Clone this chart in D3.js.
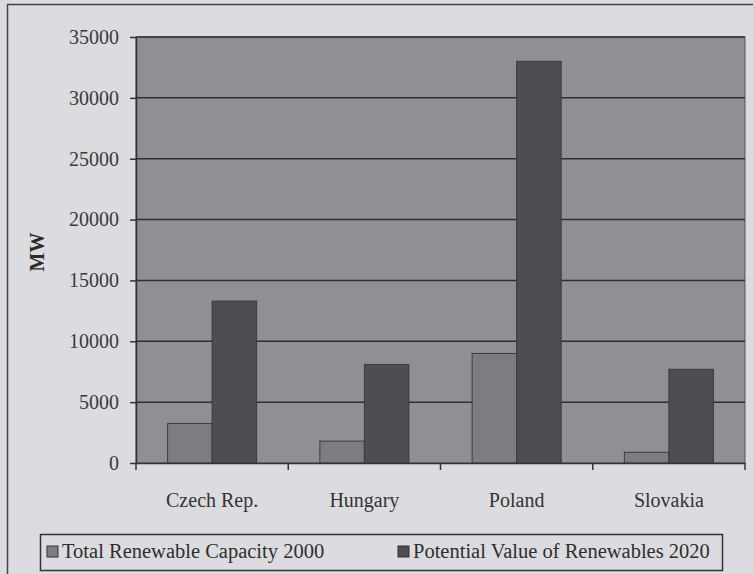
<!DOCTYPE html>
<html>
<head>
<meta charset="utf-8">
<script src="https://cdn.jsdelivr.net/npm/d3@7"></script>
<style>
  body { margin: 0; background: #dcdce0; }
  svg { display: block; }
</style>
</head>
<body>
<div id="chart"></div>
<script>
// categories and series
const countries = ["Czech Rep.", "Hungary", "Poland", "Slovakia"];
const capacity2000 = [3250, 1800, 9000, 880];
const potential2020 = [13300, 8100, 33000, 7700];
const seriesNames = ["Total Renewable Capacity 2000", "Potential Value of Renewables 2020"];
const yTicks = [0, 5000, 10000, 15000, 20000, 25000, 30000, 35000];

const W = 753, H = 574;
const margin = { top: 37, right: 8, bottom: 111, left: 136 };
const colors = ["#7c7c82", "#4d4d54"];
const serif = "'Liberation Serif', 'DejaVu Serif', serif";

const svg = d3.select("#chart")
  .append("svg")
  .attr("width", W)
  .attr("height", H);

// outer chart frame
svg.append("rect")
  .attr("x", 7.5).attr("y", 4.5)
  .attr("width", W).attr("height", H)
  .attr("fill", "#dcdce0")
  .attr("stroke", "#444").attr("stroke-width", 1.5);

const x = d3.scaleBand()
  .domain(countries)
  .range([margin.left, W - margin.right])
  .paddingInner(0)
  .paddingOuter(0);

const x1 = d3.scaleBand()
  .domain([0, 1])
  .range([0, x.bandwidth()])
  .paddingOuter(0.71)
  .paddingInner(0);

const y = d3.scaleLinear()
  .domain([0, 35000])
  .range([H - margin.bottom, margin.top]);

// plot area
svg.append("rect")
  .attr("x", margin.left).attr("y", margin.top)
  .attr("width", W - margin.right - margin.left)
  .attr("height", H - margin.bottom - margin.top)
  .attr("fill", "#8f8f95")
  .attr("stroke", "#555").attr("stroke-width", 1);

// gridlines
svg.append("g")
  .selectAll("line")
  .data(yTicks.filter(d => d > 0))
  .enter()
  .append("line")
  .attr("x1", margin.left).attr("x2", W - margin.right)
  .attr("y1", d => y(d)).attr("y2", d => y(d))
  .attr("stroke", "#2e2e33").attr("stroke-width", 1.5);

// bars
const rows = countries.map((c, i) => ({ c, vals: [capacity2000[i], potential2020[i]] }));
svg.append("g")
  .selectAll("g")
  .data(rows)
  .enter()
  .append("g")
  .attr("transform", d => `translate(${x(d.c)},0)`)
  .selectAll("rect")
  .data(d => d.vals.map((v, k) => ({ v, k })))
  .enter()
  .append("rect")
  .attr("x", d => x1(d.k))
  .attr("width", x1.bandwidth())
  .attr("y", d => y(d.v))
  .attr("height", d => y(0) - y(d.v))
  .attr("fill", d => colors[d.k])
  .attr("stroke", "#3a3a40").attr("stroke-width", 1);

// y axis
const yAxis = svg.append("g")
  .attr("transform", `translate(${margin.left},0)`)
  .call(d3.axisLeft(y).tickValues(yTicks).tickSize(6).tickSizeOuter(0).tickFormat(d3.format("d")));
yAxis.select(".domain").attr("stroke", "#333").attr("stroke-width", 1.5);
yAxis.selectAll(".tick line").attr("stroke", "#333").attr("stroke-width", 1.5);
yAxis.selectAll("text")
  .attr("x", -17)
  .attr("fill", "#3a3a3a")
  .style("font-family", serif)
  .style("font-size", "20px");

// x axis
const xAxis = svg.append("g")
  .attr("transform", `translate(0,${y(0)})`)
  .call(d3.axisBottom(x).tickSize(0).tickSizeOuter(0));
xAxis.select(".domain").attr("stroke", "#333").attr("stroke-width", 1.5);
xAxis.selectAll("text")
  .attr("y", 30)
  .attr("fill", "#333")
  .style("font-family", serif)
  .style("font-size", "20px");

// category separator ticks
svg.append("g")
  .selectAll("line")
  .data(countries.concat(["end"]))
  .enter()
  .append("line")
  .attr("x1", (d, i) => i < countries.length ? x(d) : W - margin.right)
  .attr("x2", (d, i) => i < countries.length ? x(d) : W - margin.right)
  .attr("y1", y(0)).attr("y2", y(0) + 7)
  .attr("stroke", "#333").attr("stroke-width", 1.5);

// y axis title
svg.append("text")
  .attr("transform", `translate(44,252) rotate(-90)`)
  .attr("text-anchor", "middle")
  .attr("fill", "#2a2a2a")
  .style("font-family", serif)
  .style("font-size", "20px")
  .style("font-weight", "bold")
  .text("MW");

// legend
const legend = svg.append("g");
legend.append("rect")
  .attr("x", 40.5).attr("y", 534.5)
  .attr("width", 682).attr("height", 36)
  .attr("fill", "none")
  .attr("stroke", "#333").attr("stroke-width", 1.5);

const legendX = [47, 398];
const items = legend.selectAll("g.item")
  .data(seriesNames)
  .enter()
  .append("g")
  .attr("class", "item")
  .attr("transform", (d, i) => `translate(${legendX[i]},546)`);
items.append("rect")
  .attr("width", 11).attr("height", 11)
  .attr("fill", (d, i) => colors[i])
  .attr("stroke", "#333").attr("stroke-width", 1);
items.append("text")
  .attr("x", 15).attr("y", 12)
  .attr("fill", "#2e2e2e")
  .style("font-family", serif)
  .style("font-size", "20.5px")
  .text(d => d);
</script>
</body>
</html>
